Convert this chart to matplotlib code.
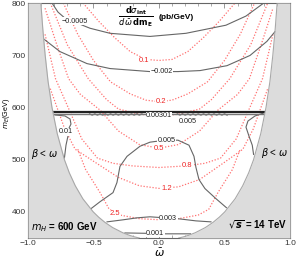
import numpy as np
import matplotlib.pyplot as plt

plt.rcParams['font.family'] = ['Liberation Sans', 'DejaVu Sans']
plt.rcParams['mathtext.fontset'] = 'dejavusans'

# kinematic limit beta(m_E); shaded where beta < |omega|
bnd_m = [350, 352, 355, 360, 370, 380, 390, 400, 425, 450, 475, 500, 550, 600, 650, 700, 750, 800]
bnd_b = [0.151, 0.184, 0.224, 0.276, 0.354, 0.413, 0.461, 0.502, 0.581, 0.639, 0.685, 0.722,
         0.777, 0.817, 0.847, 0.869, 0.887, 0.902]

# SM cross section contours (red dotted)
w_01 = [-0.58, -0.46, -0.34, -0.22, -0.1, 0.0, 0.1, 0.22, 0.34, 0.46, 0.58]
m_01 = [800, 765, 734, 707, 692, 690, 692, 707, 734, 765, 800]
w_02 = [-0.73, -0.62, -0.5, -0.37, -0.22, -0.1, 0.0, 0.1, 0.22, 0.37, 0.5, 0.62, 0.73]
m_02 = [800, 740, 690, 649, 626, 614, 611, 614, 626, 649, 690, 740, 800]
w_03 = [-0.83, -0.7, -0.54, -0.4, -0.31, -0.15, 0.0, 0.15, 0.31, 0.4, 0.54, 0.7, 0.83]
m_03 = [800, 720, 655, 615, 597, 587, 584, 587, 597, 615, 655, 720, 800]
w_05 = [-0.87, -0.78, -0.69, -0.6, -0.45, -0.31, -0.15, 0.0, 0.15, 0.31, 0.45, 0.6, 0.69, 0.78, 0.87]
m_05 = [790, 720, 655, 625, 595, 555, 529, 522, 529, 555, 595, 625, 655, 720, 790]
w_08 = [-0.87, -0.79, -0.69, -0.59, -0.47, -0.35, -0.2, 0.0, 0.2, 0.35, 0.47, 0.59, 0.69, 0.79, 0.87]
m_08 = [740, 655, 598, 540, 503, 493, 488, 485, 488, 493, 503, 540, 598, 655, 740]
w_12 = [-0.83, -0.72, -0.64, -0.5, -0.31, -0.15, 0.0, 0.15, 0.31, 0.5, 0.64, 0.72, 0.83]
m_12 = [636, 559, 520, 497, 466, 450, 445, 448, 462, 495, 520, 559, 636]
w_25 = [-0.62, -0.56, -0.45, -0.38, -0.3, -0.15, 0.0, 0.15, 0.3, 0.38, 0.45, 0.56, 0.62]
m_25 = [520, 481, 437, 405, 394, 387, 385, 387, 394, 405, 437, 481, 520]

sm_curves = [(w_01, m_01), (w_02, m_02), (w_03, m_03), (w_05, m_05),
             (w_08, m_08), (w_12, m_12), (w_25, m_25)]
sm_labels = ['0.1', '0.2', '0.5', '0.8', '1.2', '2.5']
sm_lab_w = [-0.115, 0.015, 0.0, 0.214, 0.06, -0.336]
sm_lab_m = [690, 611, 522, 489, 445, 396]

# interference contours (gray solid)
w_a = [-0.817, -0.771, -0.718, -0.527, -0.374, -0.069, 0.206, 0.511, 0.664, 0.80]
m_a = [800, 782.6, 771, 751.7, 742, 736, 742, 757.5, 775, 800]
w_b = [-0.885, -0.756, -0.55, -0.374, -0.069, 0.145, 0.313, 0.519, 0.695, 0.824, 0.885]
m_b = [732, 707, 684, 674.5, 668.7, 668.7, 670.6, 680, 699.6, 726.6, 745]
w_c = [-0.52, -0.45, -0.351, -0.321, -0.298, -0.244, -0.145, -0.069, 0.046, 0.145, 0.229,
       0.267, 0.282, 0.305, 0.351, 0.435, 0.515]
m_c = [406, 419.5, 436.9, 456.2, 487.1, 506.4, 525.7, 533.5, 537.3, 537.3, 527.7,
       506.4, 485.2, 462, 444.6, 425.3, 408]
w_d = [-0.397, -0.275, -0.168, -0.069, 0.153, 0.282, 0.397]
m_d = [380.9, 384.8, 388.6, 390.6, 386.7, 382.8, 380.9]
w_e = [-0.26, -0.1, 0.05, 0.24]
m_e = [359.7, 359, 358, 358]
w_f = [-0.794, -0.718, -0.679, -0.672, -0.687, -0.695, -0.71, -0.722]
m_f = [585.6, 583.7, 577.9, 568.2, 560.5, 545, 527.7, 503]
w_g = [0.80, 0.733, 0.679, 0.664, 0.687, 0.712, 0.722]
m_g = [589.5, 583.7, 574, 562.4, 545, 527.7, 510]
gray_curves = [(w_a, m_a), (w_b, m_b), (w_c, m_c), (w_d, m_d), (w_e, m_e), (w_f, m_f), (w_g, m_g)]

gray_labels = ['\u22120.0005', '\u22120.002', '0.00301', '0.005', '0.005', '0.01', '0.003', '0.001']
gray_lab_w = [-0.64, 0.02, 0.0, 0.22, 0.06, -0.71, 0.07, -0.03]
gray_lab_m = [765, 668.7, 584, 574, 537, 553, 386.7, 358.5]

# resonance at m_E ~ m_H
res_w = [-0.81, 0.80]
res_m = [590.5, 590.5]
wig_w = [-0.53, -0.51, -0.49, -0.47, -0.45, -0.43, -0.41, -0.39, -0.37, -0.35, -0.33, -0.31,
         -0.29, -0.27, -0.25, -0.23, -0.21, -0.19, -0.17, -0.15, -0.13]
wig_m = [588, 585, 588, 585, 588, 585, 588, 585, 588, 585, 588, 585,
         588, 585, 588, 585, 588, 585, 588, 585, 588]
wig2_w = [0.14, 0.16, 0.18, 0.2, 0.22, 0.24, 0.26, 0.28, 0.3, 0.32, 0.34, 0.36,
          0.38, 0.4, 0.42, 0.44, 0.46, 0.48, 0.5, 0.52]
wig2_m = [588, 585, 588, 585, 588, 585, 588, 585, 588, 585, 588, 585,
          588, 585, 588, 585, 588, 585, 588, 585]

fig = plt.figure(figsize=(2.96, 2.62), dpi=100)
ax = fig.add_axes([0.0946, 0.0916, 0.8851, 0.8969])

for w, m in sm_curves:
    ax.plot(w, m, color='#ff7070', lw=0.9, ls=(0, (1, 1.4)), zorder=2)
for t, w, m in zip(sm_labels, sm_lab_w, sm_lab_m):
    ax.text(w, m, t, color='#ee2222', fontsize=5.5, ha='center', va='center', zorder=2.5,
            bbox=dict(facecolor='white', edgecolor='none', pad=0.3))

for w, m in gray_curves:
    ax.plot(w, m, color='#666666', lw=0.8, zorder=2.2)
ax.plot(wig_w, wig_m, color='#8a8a8a', lw=0.9, zorder=2.2)
ax.plot(wig2_w, wig2_m, color='#8a8a8a', lw=0.9, zorder=2.2)
ax.plot(res_w, [588, 588], color='#777777', lw=1.0, zorder=2.3)
ax.plot(res_w, res_m, color='#222222', lw=1.6, zorder=2.3)
for t, w, m in zip(gray_labels, gray_lab_w, gray_lab_m):
    ax.text(w, m, t, color='#222222', fontsize=5.2, ha='center', va='center', zorder=2.6,
            bbox=dict(facecolor='white', edgecolor='none', pad=0.3))

bm = np.array(bnd_m)
bb = np.array(bnd_b)
ax.fill_betweenx(bm, -1, -bb, color='#dcdcdc', lw=0, zorder=3)
ax.fill_betweenx(bm, bb, 1, color='#dcdcdc', lw=0, zorder=3)
ax.plot(-bb, bm, color='#a8a8a8', lw=0.8, zorder=3.1)
ax.plot(bb, bm, color='#a8a8a8', lw=0.8, zorder=3.1)

ax.text(-0.87, 510, r'$\beta$ < $\omega$', fontsize=7, ha='center', va='center', zorder=4)
ax.text(0.885, 512, r'$\beta$ < $\omega$', fontsize=7, ha='center', va='center', zorder=4)
ax.text(-0.72, 371, r'$\boldsymbol{m_H}$ = 600 GeV', fontsize=7, fontweight='bold',
        ha='center', va='center', zorder=4)
ax.text(0.755, 375, r'$\sqrt{\boldsymbol{s}}$ = 14 TeV', fontsize=7, fontweight='bold',
        ha='center', va='center', zorder=4)

ax.text(0.41, 0.943, r'$\frac{\mathbf{d}\sigma_{\mathbf{int}}}{d\,\bar{\omega}\,\mathbf{dm_E}}$',
        transform=ax.transAxes, fontsize=8.5, ha='center', va='center', zorder=4)
ax.text(0.565, 0.94, '(pb/GeV)', transform=ax.transAxes, fontsize=6, fontweight='bold',
        ha='center', va='center', zorder=4)

ax.set_xlim(-1, 1)
ax.set_ylim(350, 800)
ax.set_xticks([-1.0, -0.5, 0.0, 0.5, 1.0])
ax.set_yticks([400, 500, 600, 700, 800])
ax.set_xticks(np.arange(-1.0, 1.01, 0.1), minor=True)
ax.set_yticks(np.arange(350, 801, 25), minor=True)
ax.tick_params(which='both', direction='in', top=True, right=True, color='#888888',
               labelsize=6, labelcolor='#333333', pad=1.5)
ax.tick_params(which='major', length=3.5, width=0.6)
ax.tick_params(which='minor', length=2, width=0.5)
for s in ax.spines.values():
    s.set_color('#666666')
    s.set_linewidth(0.8)
ax.set_xlabel(r'$\bar{\omega}$', fontsize=8, labelpad=0)
ax.set_ylabel(r'$m_E$(GeV)', fontsize=5.2)
ax.yaxis.set_label_coords(-0.062, 0.53)

fig.savefig('out.png', dpi=100)
